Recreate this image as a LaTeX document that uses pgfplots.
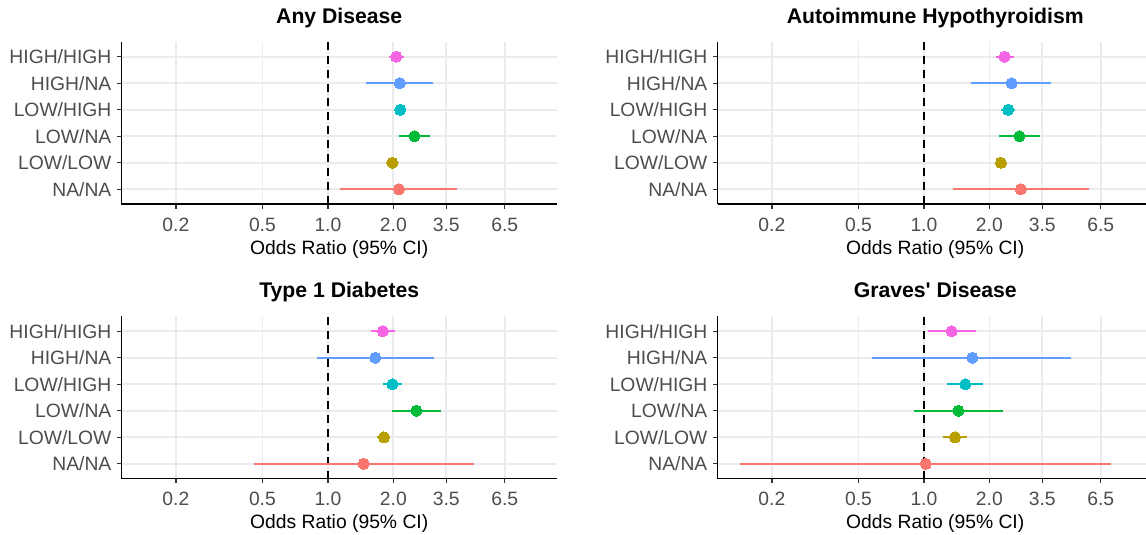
\documentclass[border=0pt]{standalone}
\usepackage{pgfplots}
\pgfplotsset{compat=1.18}
\usepackage{fontspec}
\setmainfont{Liberation Sans}
\definecolor{cNA}{HTML}{F8766D}
\definecolor{cLL}{HTML}{B79F00}
\definecolor{cLN}{HTML}{00BA38}
\definecolor{cLH}{HTML}{00BFC4}
\definecolor{cHN}{HTML}{619CFF}
\definecolor{cHH}{HTML}{F564E3}
\definecolor{gridc}{HTML}{EBEBEB}
\definecolor{txt}{HTML}{4D4D4D}
\definecolor{tickc}{HTML}{333333}
% color, y, estimate, lower, upper
\newcommand{\ci}[5]{%
  \addplot[color=#1, line width=1.6pt, forget plot] coordinates {(#4,#2) (#5,#2)};
  \addplot[color=#1, only marks, mark=*, mark size=5.6pt, mark options={solid, draw=#1, fill=#1, line width=0pt}, forget plot] coordinates {(#3,#2)};
}
\pgfplotsset{
  every axis/.append style={
  scale only axis, width=435.5pt, height=162.3pt,
  xmin=0.1125, xmax=11.3, ymin=0.445, ymax=6.566,
  xtick={0.2,0.5,1,2,3.5,6.5}, xticklabels={0.2,0.5,1.0,2.0,3.5,6.5},
  minor xtick={},
  ytick={1,2,3,4,5,6}, yticklabels={NA/NA,LOW/LOW,LOW/NA,LOW/HIGH,HIGH/NA,HIGH/HIGH},
  axis x line*=bottom, axis y line*=left,
  axis line style={-, line width=1.7pt, black},
  grid=major, major grid style={gridc, line width=1.8pt},
  tick align=outside, major tick length=4.5pt,
  tick style={tickc, line width=1.4pt},
  /pgf/number format/assume math mode=true,
  ticklabel style={font=\fontsize{19.3}{19.3}\selectfont, text=txt, inner sep=0pt},
  xticklabel style={anchor=north, yshift=-9pt},
  yticklabel style={anchor=east, xshift=-5.5pt},
  xlabel={Odds Ratio (95\% CI)},
  xlabel style={font=\fontsize{19.3}{19.3}\selectfont, at={(axis description cs:0.5,0)}, anchor=base, yshift=-50pt, inner sep=0pt},
  title style={font=\bfseries\fontsize{21.2}{21.2}\selectfont, at={(axis description cs:0.5,1)}, anchor=base, yshift=12.4pt, inner sep=0pt},
  anchor=south west,
  }
}
\begin{document}
\begin{tikzpicture}
\path[use as bounding box] (0pt,0pt) rectangle (1146pt,-535pt);

\begin{semilogxaxis}[at={(121.5pt,-204pt)}, title={Any Disease}]
\addplot[black, line width=1.8pt, dash pattern=on 8pt off 6pt, forget plot] coordinates {(1,0.445) (1,6.566)};
\ci{cHH}{6}{2.06}{1.91}{2.24}
\ci{cHN}{5}{2.14}{1.50}{3.03}
\ci{cLH}{4}{2.15}{2.04}{2.27}
\ci{cLN}{3}{2.50}{2.12}{2.95}
\ci{cLL}{2}{1.98}{1.92}{2.04}
\ci{cNA}{1}{2.12}{1.14}{3.93}
\end{semilogxaxis}

\begin{semilogxaxis}[at={(717.5pt,-204pt)}, title={Autoimmune Hypothyroidism}]
\addplot[black, line width=1.8pt, dash pattern=on 8pt off 6pt, forget plot] coordinates {(1,0.445) (1,6.566)};
\ci{cHH}{6}{2.35}{2.14}{2.59}
\ci{cHN}{5}{2.53}{1.65}{3.85}
\ci{cLH}{4}{2.44}{2.26}{2.63}
\ci{cLN}{3}{2.75}{2.22}{3.40}
\ci{cLL}{2}{2.26}{2.18}{2.34}
\ci{cNA}{1}{2.79}{1.36}{5.73}
\end{semilogxaxis}

\begin{semilogxaxis}[at={(121.5pt,-478.5pt)}, title={Type 1 Diabetes}]
\addplot[black, line width=1.8pt, dash pattern=on 8pt off 6pt, forget plot] coordinates {(1,0.445) (1,6.566)};
\ci{cHH}{6}{1.79}{1.57}{2.04}
\ci{cHN}{5}{1.65}{0.89}{3.08}
\ci{cLH}{4}{1.98}{1.80}{2.20}
\ci{cLN}{3}{2.55}{1.97}{3.32}
\ci{cLL}{2}{1.81}{1.69}{1.93}
\ci{cNA}{1}{1.46}{0.455}{4.67}
\end{semilogxaxis}

\begin{semilogxaxis}[at={(717.5pt,-478.5pt)}, title={Graves\textquotesingle\ Disease}]
\addplot[black, line width=1.8pt, dash pattern=on 8pt off 6pt, forget plot] coordinates {(1,0.445) (1,6.566)};
\ci{cHH}{6}{1.34}{1.04}{1.73}
\ci{cHN}{5}{1.67}{0.58}{4.75}
\ci{cLH}{4}{1.55}{1.28}{1.87}
\ci{cLN}{3}{1.44}{0.905}{2.31}
\ci{cLL}{2}{1.39}{1.23}{1.57}
\ci{cNA}{1}{1.02}{0.143}{7.24}
\end{semilogxaxis}
\end{tikzpicture}
\end{document}
